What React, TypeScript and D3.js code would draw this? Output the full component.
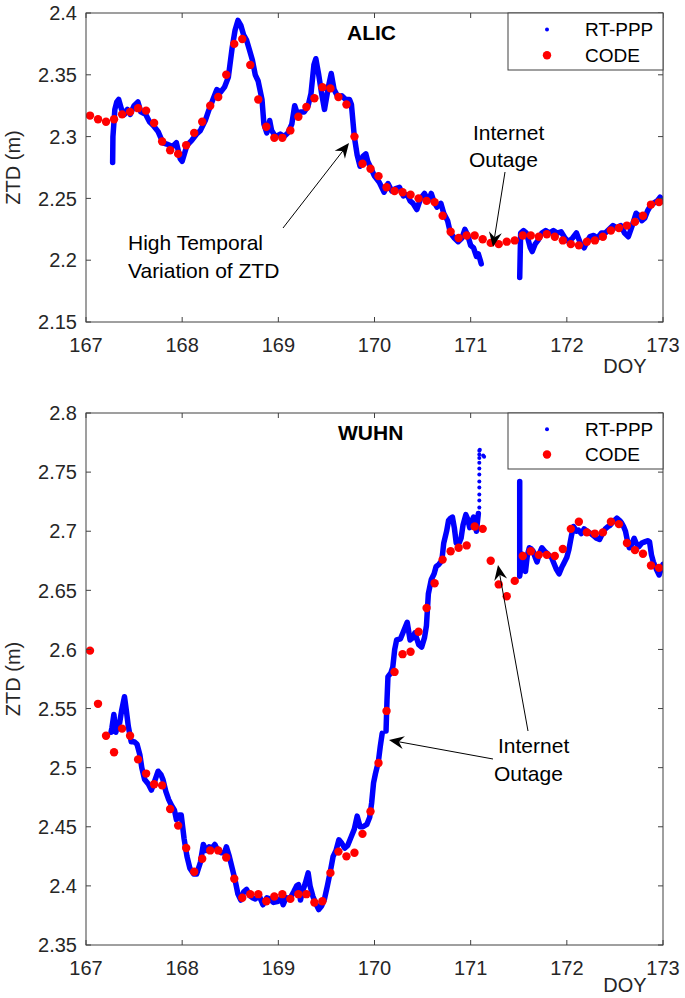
import React from "react";
import * as d3 from "d3";

// ---------- DATA ----------
const doyTicks = [167, 168, 169, 170, 171, 172, 173];
const alicYTicks = [2.15, 2.2, 2.25, 2.3, 2.35, 2.4];
const wuhnYTicks = [2.35, 2.4, 2.45, 2.5, 2.55, 2.6, 2.65, 2.7, 2.75, 2.8];

// CODE (2-hourly, centred on the bin) values
const codeStart = 167;
const codeStep = 1 / 12;
const alicCode = [
  2.317, 2.314, 2.312, 2.314, 2.318, 2.32, 2.323, 2.321, 2.311, 2.296, 2.289, 2.286,
  2.293, 2.303, 2.312, 2.325, 2.332, 2.35, 2.375, 2.379, 2.358, 2.33, 2.308, 2.299,
  2.299, 2.305, 2.316, 2.324, 2.331, 2.34, 2.339, 2.332, 2.326, 2.3, 2.278, 2.274,
  2.268, 2.259, 2.256, 2.255, 2.253, 2.25, 2.248, 2.247, 2.236, 2.223, 2.218, 2.22,
  2.22, 2.217, 2.214, 2.213, 2.215, 2.216, 2.22, 2.22, 2.219, 2.221, 2.219, 2.216,
  2.213, 2.212, 2.215, 2.216, 2.219, 2.224, 2.226, 2.228, 2.231, 2.236, 2.245, 2.247,
];
const wuhnCode = [
  2.599, 2.554, 2.527, 2.513, 2.533, 2.527, 2.507, 2.495, 2.486, 2.485, 2.465, 2.451,
  2.432, 2.412, 2.423, 2.43, 2.43, 2.424, 2.406, 2.39, 2.393, 2.393, 2.387, 2.391,
  2.393, 2.389, 2.393, 2.393, 2.386, 2.387, 2.411, 2.429, 2.425, 2.428, 2.444, 2.463,
  2.504, 2.548, 2.581, 2.596, 2.598, 2.615, 2.635, 2.656, 2.676, 2.683, 2.686, 2.688,
  2.704, 2.702, 2.675, 2.655, 2.645, 2.658, 2.679, 2.683, 2.68, 2.68, 2.679, 2.685,
  2.702, 2.708, 2.699, 2.698, 2.699, 2.708, 2.706, 2.69, 2.684, 2.681, 2.671, 2.669,
];

// RT-PPP (doy, ztd), split at outages
const alicPppA: [number, number][] = [
  [167.277, 2.279], [167.28, 2.3], [167.3, 2.322], [167.32, 2.328], [167.34, 2.33], [167.37, 2.322],
  [167.4, 2.318], [167.43, 2.322], [167.46, 2.318], [167.5, 2.325], [167.54, 2.328], [167.57, 2.32],
  [167.62, 2.318], [167.66, 2.312], [167.7, 2.309], [167.75, 2.304], [167.8, 2.295], [167.84, 2.294],
  [167.9, 2.292], [167.94, 2.295], [167.98, 2.282], [168.0, 2.28], [168.05, 2.293], [168.1, 2.297],
  [168.15, 2.302], [168.19, 2.305], [168.24, 2.313], [168.28, 2.322], [168.32, 2.33], [168.36, 2.338],
  [168.4, 2.336], [168.44, 2.34], [168.48, 2.348], [168.52, 2.372], [168.55, 2.386], [168.58, 2.394],
  [168.61, 2.39], [168.64, 2.382], [168.67, 2.378], [168.7, 2.37], [168.73, 2.362], [168.76, 2.35],
  [168.79, 2.345], [168.83, 2.33], [168.85, 2.31], [168.88, 2.303], [168.91, 2.313], [168.93, 2.305],
  [168.97, 2.3], [169.02, 2.302], [169.06, 2.3], [169.1, 2.303], [169.14, 2.31], [169.17, 2.325],
  [169.2, 2.318], [169.23, 2.32], [169.27, 2.32], [169.31, 2.325], [169.34, 2.335], [169.37, 2.358],
  [169.39, 2.363], [169.42, 2.35], [169.45, 2.335], [169.48, 2.322], [169.52, 2.34], [169.55, 2.351],
  [169.58, 2.338], [169.62, 2.332], [169.66, 2.333], [169.7, 2.33], [169.74, 2.33], [169.76, 2.326],
  [169.79, 2.3], [169.82, 2.285], [169.85, 2.276], [169.88, 2.284], [169.91, 2.286], [169.93, 2.28],
  [169.96, 2.275], [170.0, 2.268], [170.05, 2.263], [170.1, 2.255], [170.14, 2.262], [170.18, 2.256],
  [170.22, 2.258], [170.26, 2.259], [170.3, 2.252], [170.34, 2.253], [170.37, 2.248], [170.4, 2.246],
  [170.44, 2.241], [170.48, 2.25], [170.52, 2.254], [170.56, 2.248], [170.59, 2.254], [170.62, 2.247],
  [170.65, 2.243], [170.69, 2.246], [170.72, 2.238], [170.76, 2.232], [170.79, 2.222], [170.83, 2.218],
  [170.87, 2.215], [170.91, 2.218], [170.94, 2.225], [170.97, 2.22], [171.0, 2.212], [171.03, 2.21],
  [171.06, 2.203], [171.08, 2.205], [171.1, 2.2], [171.11, 2.197],
];
const alicPppB: [number, number][] = [
  [171.51, 2.186], [171.515, 2.205], [171.52, 2.222], [171.55, 2.224], [171.58, 2.222], [171.62, 2.21],
  [171.64, 2.207], [171.67, 2.213], [171.7, 2.216], [171.74, 2.222], [171.78, 2.224], [171.82, 2.222],
  [171.86, 2.224], [171.9, 2.222], [171.94, 2.223], [171.98, 2.218], [172.02, 2.215], [172.06, 2.218],
  [172.1, 2.222], [172.14, 2.214], [172.18, 2.21], [172.21, 2.215], [172.24, 2.219], [172.28, 2.22],
  [172.32, 2.218], [172.36, 2.222], [172.4, 2.222], [172.44, 2.225], [172.48, 2.228], [172.52, 2.226],
  [172.56, 2.228], [172.6, 2.222], [172.64, 2.219], [172.68, 2.228], [172.72, 2.238], [172.75, 2.236],
  [172.78, 2.232], [172.81, 2.234], [172.84, 2.24], [172.87, 2.244], [172.9, 2.246], [172.94, 2.248],
  [172.97, 2.251], [173.0, 2.248],
];

const wuhnPppA: [number, number][] = [
  [167.26, 2.53], [167.27, 2.534], [167.29, 2.545], [167.31, 2.53], [167.33, 2.536], [167.35, 2.538],
  [167.37, 2.548], [167.4, 2.56], [167.42, 2.548], [167.44, 2.535], [167.47, 2.522], [167.5, 2.522],
  [167.53, 2.52], [167.56, 2.511], [167.58, 2.5], [167.61, 2.49], [167.65, 2.486], [167.68, 2.481],
  [167.72, 2.49], [167.75, 2.497], [167.78, 2.494], [167.8, 2.49], [167.83, 2.48], [167.86, 2.473],
  [167.89, 2.468], [167.92, 2.464], [167.94, 2.456], [167.97, 2.46], [167.99, 2.46], [168.02, 2.44],
  [168.05, 2.425], [168.08, 2.415], [168.12, 2.41], [168.15, 2.41], [168.19, 2.42], [168.22, 2.435],
  [168.25, 2.43], [168.28, 2.433], [168.31, 2.432], [168.34, 2.435], [168.37, 2.43], [168.41, 2.428],
  [168.44, 2.428], [168.46, 2.433], [168.49, 2.425], [168.52, 2.415], [168.55, 2.405], [168.58, 2.393],
  [168.61, 2.388], [168.64, 2.395], [168.67, 2.397], [168.7, 2.392], [168.73, 2.39], [168.76, 2.389],
  [168.8, 2.392], [168.84, 2.384], [168.88, 2.39], [168.91, 2.389], [168.95, 2.386], [169.0, 2.387],
  [169.03, 2.39], [169.05, 2.384], [169.08, 2.39], [169.12, 2.389], [169.16, 2.395], [169.19, 2.4],
  [169.21, 2.401], [169.23, 2.388], [169.25, 2.395], [169.28, 2.402], [169.31, 2.411], [169.33, 2.4],
  [169.36, 2.391], [169.39, 2.385], [169.42, 2.38], [169.45, 2.383], [169.48, 2.389], [169.51, 2.4],
  [169.54, 2.412], [169.57, 2.425], [169.6, 2.43], [169.63, 2.439], [169.66, 2.436], [169.69, 2.432],
  [169.72, 2.434], [169.76, 2.442], [169.79, 2.448], [169.82, 2.459], [169.85, 2.45], [169.88, 2.45],
  [169.92, 2.452], [169.95, 2.458], [169.97, 2.47], [169.99, 2.487], [170.01, 2.495], [170.04, 2.505],
  [170.06, 2.518], [170.08, 2.529],
];
const wuhnPppB: [number, number][] = [
  [170.12, 2.531], [170.13, 2.557], [170.14, 2.577], [170.17, 2.58], [170.19, 2.585], [170.21, 2.6],
  [170.23, 2.608], [170.27, 2.609], [170.3, 2.615], [170.34, 2.623], [170.37, 2.608], [170.4, 2.61],
  [170.42, 2.614], [170.46, 2.604], [170.49, 2.602], [170.52, 2.61], [170.54, 2.62], [170.56, 2.647],
  [170.59, 2.659], [170.62, 2.664], [170.64, 2.67], [170.67, 2.672], [170.7, 2.675], [170.72, 2.69],
  [170.75, 2.7], [170.77, 2.709], [170.79, 2.711], [170.81, 2.712], [170.83, 2.703], [170.85, 2.69],
  [170.88, 2.69], [170.9, 2.694], [170.92, 2.705], [170.95, 2.714], [170.97, 2.71], [170.99, 2.703],
  [171.01, 2.708], [171.03, 2.712], [171.05, 2.705], [171.06, 2.7], [171.08, 2.715],
];
const wuhnPppSpikeDots: [number, number][] = [
  [171.09, 2.72], [171.09, 2.726], [171.09, 2.731], [171.09, 2.737], [171.09, 2.742], [171.09, 2.748],
  [171.09, 2.753], [171.09, 2.758], [171.09, 2.762], [171.09, 2.765], [171.09, 2.768], [171.095, 2.769],
  [171.13, 2.764], [171.14, 2.763],
];
const wuhnPppC: [number, number][] = [
  [171.51, 2.742], [171.51, 2.662], [171.52, 2.668], [171.53, 2.681], [171.55, 2.672], [171.57, 2.666],
  [171.59, 2.68], [171.61, 2.686], [171.63, 2.685], [171.65, 2.683], [171.67, 2.678], [171.69, 2.674],
  [171.71, 2.68], [171.74, 2.686], [171.77, 2.683], [171.81, 2.68], [171.84, 2.678], [171.86, 2.674],
  [171.89, 2.668], [171.92, 2.664], [171.95, 2.67], [171.97, 2.673], [172.0, 2.678], [172.02, 2.684],
  [172.05, 2.697], [172.07, 2.704], [172.1, 2.7], [172.12, 2.701], [172.15, 2.698], [172.18, 2.702],
  [172.21, 2.7], [172.25, 2.698], [172.28, 2.696], [172.31, 2.694], [172.34, 2.693], [172.37, 2.698],
  [172.4, 2.702], [172.43, 2.704], [172.45, 2.705], [172.48, 2.708], [172.52, 2.711], [172.55, 2.709],
  [172.57, 2.707], [172.59, 2.704], [172.61, 2.7], [172.63, 2.692], [172.65, 2.686], [172.67, 2.688],
  [172.7, 2.694], [172.72, 2.69], [172.75, 2.687], [172.78, 2.69], [172.81, 2.691], [172.84, 2.692],
  [172.86, 2.691], [172.88, 2.68], [172.9, 2.674], [172.93, 2.668], [172.96, 2.663], [172.98, 2.668],
  [173.0, 2.672],
];

// ---------- LAYOUT ----------
const W = 685;
const H = 998;
const X0 = 86;
const X1 = 663;
const FONT = "'Liberation Sans', Arial, Helvetica, sans-serif";
const AX = "#404040";
const TXT = "#262626";
const BLUE = "#0000ff";
const RED = "#ff0000";

type Ann = { lines: { text: string; x: number; y: number }[] };
type Arr = { x1: number; y1: number; x2: number; y2: number };

function Arrow({ x1, y1, x2, y2 }: Arr) {
  const dx = x2 - x1;
  const dy = y2 - y1;
  const len = Math.hypot(dx, dy);
  const ux = dx / len;
  const uy = dy / len;
  const nx = -uy;
  const ny = ux;
  const L = 15;
  const Wd = 6.5;
  const notch = 10;
  const bx = x2 - L * ux;
  const by = y2 - L * uy;
  const mx = x2 - notch * ux;
  const my = y2 - notch * uy;
  const pts = [
    [x2, y2],
    [bx + Wd * nx, by + Wd * ny],
    [mx, my],
    [bx - Wd * nx, by - Wd * ny],
  ];
  return (
    <g>
      <line x1={x1} y1={y1} x2={mx} y2={my} stroke="#000" strokeWidth={1} />
      <polygon points={pts.map((p) => p.join(",")).join(" ")} fill="#000" />
    </g>
  );
}

function Panel(props: {
  id: string;
  top: number;
  bottom: number;
  yDomain: [number, number];
  yTicks: number[];
  code: number[];
  segments: [number, number][][];
  dots: [number, number][];
  title: string;
  titleX: number;
  titleY: number;
  legendTop: number;
  legendBottom: number;
  doyY: number;
  anns: Ann[];
  arrows: Arr[];
}) {
  const { top, bottom } = props;
  const x = d3.scaleLinear().domain([167, 173]).range([X0, X1]);
  const y = d3.scaleLinear().domain(props.yDomain).range([bottom, top]);
  const line = d3
    .line<[number, number]>()
    .x((d) => x(d[0]))
    .y((d) => y(d[1]));
  const tickLen = 5;
  const lt = props.legendTop;
  const lb = props.legendBottom;
  const lh = lb - lt;
  return (
    <g>
      <defs>
        <clipPath id={props.id}>
          <rect x={X0} y={top} width={X1 - X0} height={bottom - top} />
        </clipPath>
      </defs>
      {/* data */}
      <g clipPath={`url(#${props.id})`}>
        {props.segments.map((s, i) => (
          <path
            key={i}
            d={line(s) || ""}
            fill="none"
            stroke={BLUE}
            strokeWidth={5.5}
            strokeLinejoin="round"
            strokeLinecap="round"
          />
        ))}
        {props.dots.map((d, i) => (
          <circle key={i} cx={x(d[0])} cy={y(d[1])} r={2} fill={BLUE} />
        ))}
        {props.code.map((v, i) => (
          <circle key={i} cx={x(codeStart + (i + 0.5) * codeStep)} cy={y(v)} r={4.2} fill={RED} />
        ))}
      </g>
      {/* box */}
      <rect x={X0} y={top} width={X1 - X0} height={bottom - top} fill="none" stroke={AX} strokeWidth={1} />
      {/* x ticks */}
      {doyTicks.map((t) => (
        <g key={"x" + t}>
          <line x1={x(t)} x2={x(t)} y1={bottom} y2={bottom - tickLen} stroke={AX} />
          <line x1={x(t)} x2={x(t)} y1={top} y2={top + tickLen} stroke={AX} />
          <text x={x(t)} y={bottom + 30} textAnchor="middle" fontSize={20} fill={TXT} fontFamily={FONT}>
            {t}
          </text>
        </g>
      ))}
      {/* y ticks */}
      {props.yTicks.map((t) => (
        <g key={"y" + t}>
          <line x1={X0} x2={X0 + tickLen} y1={y(t)} y2={y(t)} stroke={AX} />
          <line x1={X1} x2={X1 - tickLen} y1={y(t)} y2={y(t)} stroke={AX} />
          <text
            x={X0 - 9}
            y={y(t)}
            dy="0.36em"
            textAnchor="end"
            fontSize={20}
            fill={TXT}
            fontFamily={FONT}
          >
            {d3.format("")(t)}
          </text>
        </g>
      ))}
      <text x={625} y={props.doyY} textAnchor="middle" fontSize={20} fill={TXT} fontFamily={FONT}>
        DOY
      </text>
      <text
        transform={`translate(${20},${(top + bottom) / 2}) rotate(-90)`}
        textAnchor="middle"
        fontSize={20}
        fill={TXT}
        fontFamily={FONT}
      >
        ZTD (m)
      </text>
      {/* title */}
      <text x={props.titleX} y={props.titleY} fontSize={21} fontWeight="bold" fill="#000" fontFamily={FONT}>
        {props.title}
      </text>
      {/* legend */}
      <rect x={508} y={lt} width={X1 - 508} height={lh} fill="#fff" stroke={AX} strokeWidth={1} />
      <circle cx={547} cy={lt + lh * 0.29} r={2} fill={BLUE} />
      <circle cx={547} cy={lt + lh * 0.74} r={4.2} fill={RED} />
      <text x={585} y={lt + lh * 0.29} dy="0.36em" fontSize={19} fill="#000" fontFamily={FONT}>
        RT-PPP
      </text>
      <text x={585} y={lt + lh * 0.74} dy="0.36em" fontSize={19} fill="#000" fontFamily={FONT}>
        CODE
      </text>
      {/* annotations */}
      {props.anns.map((a, i) => (
        <g key={"a" + i}>
          {a.lines.map((l, j) => (
            <text key={j} x={l.x} y={l.y} fontSize={21} fill="#000" fontFamily={FONT}>
              {l.text}
            </text>
          ))}
        </g>
      ))}
      {props.arrows.map((a, i) => (
        <Arrow key={"r" + i} {...a} />
      ))}
    </g>
  );
}

export default function App() {
  return (
    <svg
      width={W}
      height={H}
      viewBox={`0 0 ${W} ${H}`}
      style={{ position: "absolute", left: 0, top: 0, background: "#fff" }}
    >
      <rect x={0} y={0} width={W} height={H} fill="#fff" />
      <Panel
        id="clipA"
        top={13}
        bottom={322}
        yDomain={[2.15, 2.4]}
        yTicks={alicYTicks}
        code={alicCode}
        segments={[alicPppA, alicPppB]}
        dots={[]}
        title="ALIC"
        titleX={347}
        titleY={40}
        legendTop={13}
        legendBottom={70}
        doyY={373}
        anns={[
          {
            lines: [
              { text: "High Temporal", x: 128, y: 250 },
              { text: "Variation of ZTD", x: 128, y: 278 },
            ],
          },
          {
            lines: [
              { text: "Internet", x: 473, y: 140 },
              { text: "Outage", x: 469, y: 167 },
            ],
          },
        ]}
        arrows={[
          { x1: 283, y1: 228, x2: 349, y2: 143 },
          { x1: 505, y1: 172, x2: 493, y2: 247 },
        ]}
      />
      <Panel
        id="clipB"
        top={413}
        bottom={945}
        yDomain={[2.35, 2.8]}
        yTicks={wuhnYTicks}
        code={wuhnCode}
        segments={[wuhnPppA, wuhnPppB, wuhnPppC]}
        dots={wuhnPppSpikeDots}
        title="WUHN"
        titleX={338}
        titleY={440}
        legendTop={413}
        legendBottom={469}
        doyY={992}
        anns={[
          {
            lines: [
              { text: "Internet", x: 498, y: 753 },
              { text: "Outage", x: 494, y: 781 },
            ],
          },
        ]}
        arrows={[
          { x1: 493, y1: 759, x2: 389, y2: 740 },
          { x1: 528, y1: 731, x2: 498, y2: 565 },
        ]}
      />
    </svg>
  );
}
